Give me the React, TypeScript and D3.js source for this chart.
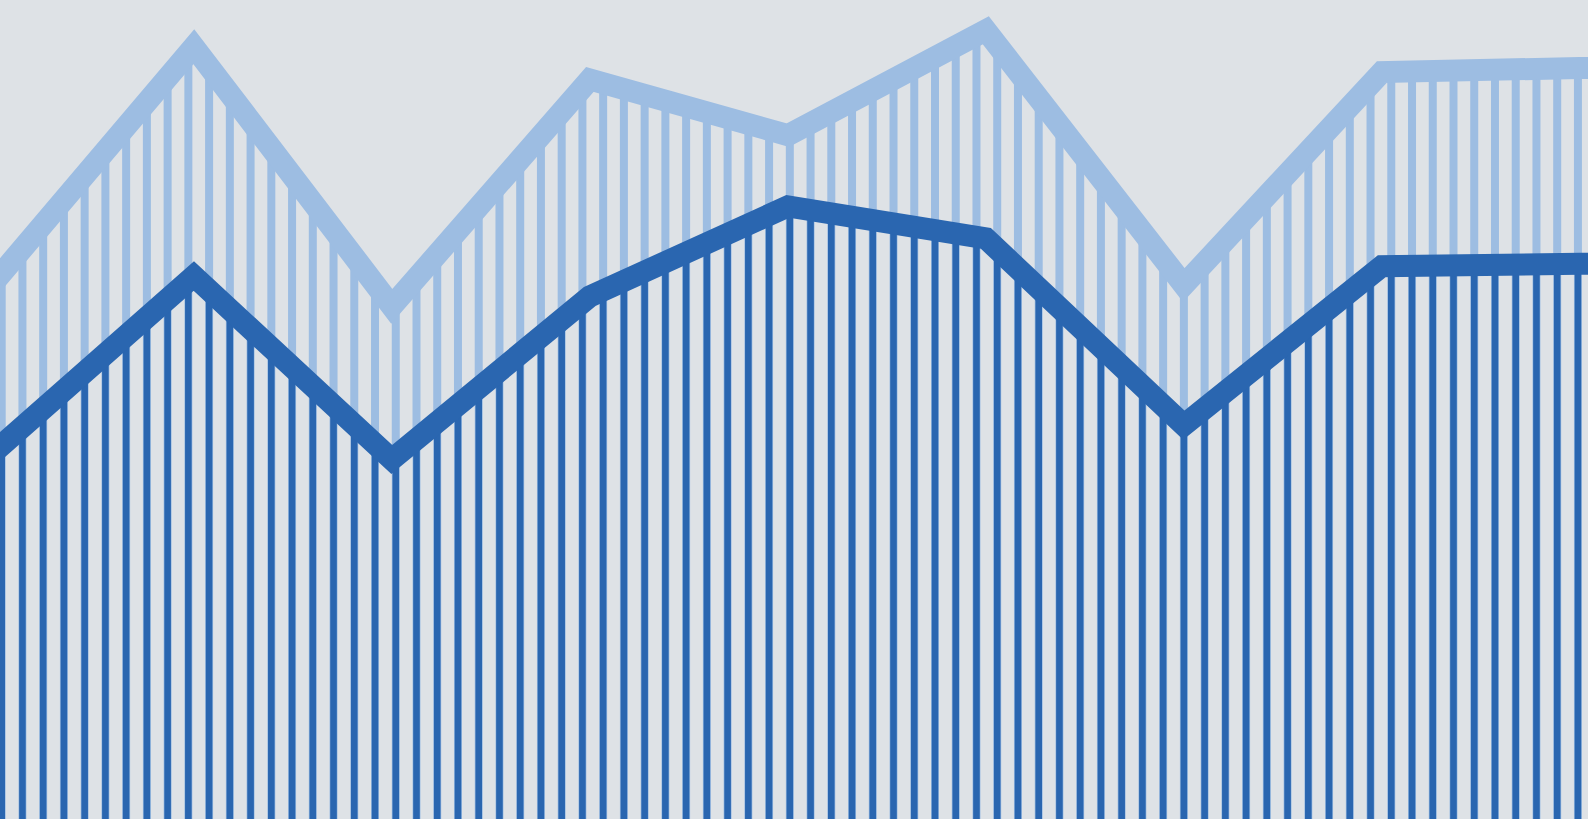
import React from "react";
import * as d3 from "d3";

// Data: index positions (evenly spaced periods) and two series values (0-100 scale)
const periods = [0, 1, 2, 3, 4, 5, 6, 7, 8, 9];
const upperSeries = [65.8, 94.3, 62.6, 90.3, 83.5, 96.3, 65.2, 91.2, 91.7, 91.9];
const lowerSeries = [45.0, 66.3, 43.9, 63.8, 74.8, 70.9, 48.1, 67.5, 67.8, 67.9];

const W = 1588;
const H = 819;
const BG = "#dee2e6";
const LIGHT = "#9dbde2";
const DARK = "#2a66b0";
const STROKE_W = 22;
const HATCH_START = 1.7;
const HATCH_STEP = 20.74;

const xScale = d3.scaleLinear().domain([0, 1]).range([-4.2, 193.8]);
const yScale = d3.scaleLinear().domain([0, 100]).range([H, 0]);

function valueAt(series: number[], t: number): number {
  const i = Math.max(0, Math.min(series.length - 2, Math.floor(t)));
  const f = t - i;
  return series[i] + (series[i + 1] - series[i]) * f;
}

function hatchXs(): number[] {
  const xs: number[] = [];
  for (let x = HATCH_START; x < W + HATCH_STEP; x += HATCH_STEP) xs.push(x);
  return xs;
}

export default function App() {
  const line = d3
    .line<number>()
    .x((_, i) => xScale(periods[i]))
    .y((d) => yScale(d));
  const xs = hatchXs();

  const hatches = (series: number[], color: string, width: number) =>
    xs.map((x, k) => {
      const t = xScale.invert(x);
      const y = yScale(valueAt(series, t));
      return (
        <line key={k} x1={x} x2={x} y1={y} y2={H} stroke={color} strokeWidth={width} />
      );
    });

  return (
    <svg
      width={W}
      height={H}
      style={{ position: "absolute", left: 0, top: 0, display: "block" }}
    >
      <rect x={0} y={0} width={W} height={H} fill={BG} />
      <g>{hatches(upperSeries, LIGHT, 8)}</g>
      <path
        d={line(upperSeries) || ""}
        fill="none"
        stroke={LIGHT}
        strokeWidth={STROKE_W}
        strokeLinejoin="miter"
        strokeMiterlimit={10}
      />
      <g>{hatches(lowerSeries, DARK, 6.6)}</g>
      <path
        d={line(lowerSeries) || ""}
        fill="none"
        stroke={DARK}
        strokeWidth={STROKE_W}
        strokeLinejoin="miter"
        strokeMiterlimit={10}
      />
    </svg>
  );
}
